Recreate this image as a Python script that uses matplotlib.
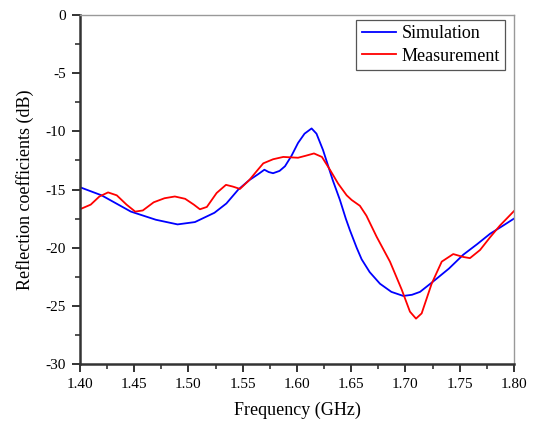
import numpy as np
import matplotlib
matplotlib.use("Agg")
import matplotlib.pyplot as plt
from matplotlib.ticker import MultipleLocator, AutoMinorLocator

plt.rcParams["font.family"] = ["Liberation Serif", "DejaVu Serif"]
plt.rcParams["axes.unicode_minus"] = False

# Simulated reflection coefficient (dB) vs frequency (GHz)
f_sim = [1.400, 1.420, 1.447, 1.470, 1.490, 1.506, 1.524, 1.535, 1.546, 1.556,
         1.564, 1.570, 1.574, 1.578, 1.584, 1.589, 1.595, 1.601, 1.607, 1.6135,
         1.618, 1.624, 1.633, 1.6396, 1.645, 1.6488, 1.655, 1.6596, 1.667, 1.6765,
         1.687, 1.698, 1.706, 1.7134, 1.7256, 1.740, 1.7533, 1.766, 1.778, 1.790,
         1.800]
s_sim = [-14.8, -15.5, -16.9, -17.6, -18.0, -17.8, -17.0, -16.2, -15.0, -14.2,
         -13.7, -13.3, -13.5, -13.6, -13.4, -13.0, -12.1, -11.0, -10.2, -9.75,
         -10.2, -11.6, -14.2, -15.9, -17.5, -18.5, -20.0, -21.0, -22.1, -23.1,
         -23.8, -24.15, -24.05, -23.8, -22.9, -21.8, -20.6, -19.7, -18.8, -18.1,
         -17.5]

# Measured reflection coefficient (dB)
f_meas = [1.400, 1.410, 1.418, 1.426, 1.434, 1.443, 1.451, 1.458, 1.468, 1.478,
          1.4875, 1.497, 1.505, 1.5106, 1.517, 1.526, 1.5346, 1.541, 1.5475, 1.556,
          1.564, 1.569, 1.578, 1.5874, 1.601, 1.608, 1.6157, 1.623, 1.6304, 1.638,
          1.6458, 1.6504, 1.658, 1.664, 1.6734, 1.6857, 1.6965, 1.7041, 1.7097, 1.7149,
          1.7241, 1.7334, 1.744, 1.7533, 1.7594, 1.7687, 1.778, 1.787, 1.800]
s_meas = [-16.7, -16.3, -15.6, -15.25, -15.5, -16.3, -16.9, -16.8, -16.1, -15.75,
          -15.6, -15.8, -16.3, -16.7, -16.5, -15.3, -14.6, -14.75, -14.95, -14.2,
          -13.3, -12.75, -12.4, -12.2, -12.27, -12.1, -11.9, -12.2, -13.3, -14.5,
          -15.5, -15.9, -16.4, -17.25, -19.06, -21.2, -23.6, -25.5, -26.1, -25.65,
          -23.1, -21.2, -20.55, -20.8, -20.9, -20.2, -19.1, -18.1, -16.85]

fig = plt.figure(figsize=(5.36, 4.23), dpi=100)
ax = fig.add_axes([0.149, 0.1395, 0.81, 0.825])

ax.plot(f_sim, s_sim, color="blue", lw=1.3, label="Simulation")
ax.plot(f_meas, s_meas, color="red", lw=1.3, label="Measurement")

ax.set_xlim(1.40, 1.80)
ax.set_ylim(-30, 0)
ax.xaxis.set_major_locator(MultipleLocator(0.05))
ax.yaxis.set_major_locator(MultipleLocator(5))
ax.xaxis.set_minor_locator(AutoMinorLocator(2))
ax.yaxis.set_minor_locator(AutoMinorLocator(2))
ax.xaxis.set_major_formatter(matplotlib.ticker.FormatStrFormatter("%.2f"))

for side in ("left", "bottom"):
    ax.spines[side].set_color("#333333")
    ax.spines[side].set_linewidth(1.8)
for side in ("top", "right"):
    ax.spines[side].set_color("#999999")
    ax.spines[side].set_linewidth(1.0)

ax.tick_params(which="major", direction="out", length=6, width=1.4,
               color="#333333", labelsize=11, top=False, right=False, pad=4)
ax.tick_params(which="minor", direction="out", length=3.5, width=1.2,
               color="#333333", top=False, right=False)

ax.set_xlabel("Frequency (GHz)", fontsize=13, labelpad=8)
ax.set_ylabel("Reflection coefficients (dB)", fontsize=13, labelpad=8)

leg = ax.legend(loc="upper right", bbox_to_anchor=(0.98, 0.986), borderaxespad=0,
                fontsize=13, fancybox=False, framealpha=1, edgecolor="#555555",
                handlelength=1.9, handletextpad=0.3, borderpad=0.3, labelspacing=0.3)
leg.get_frame().set_linewidth(0.9)

fig.savefig("out.png", dpi=100)
